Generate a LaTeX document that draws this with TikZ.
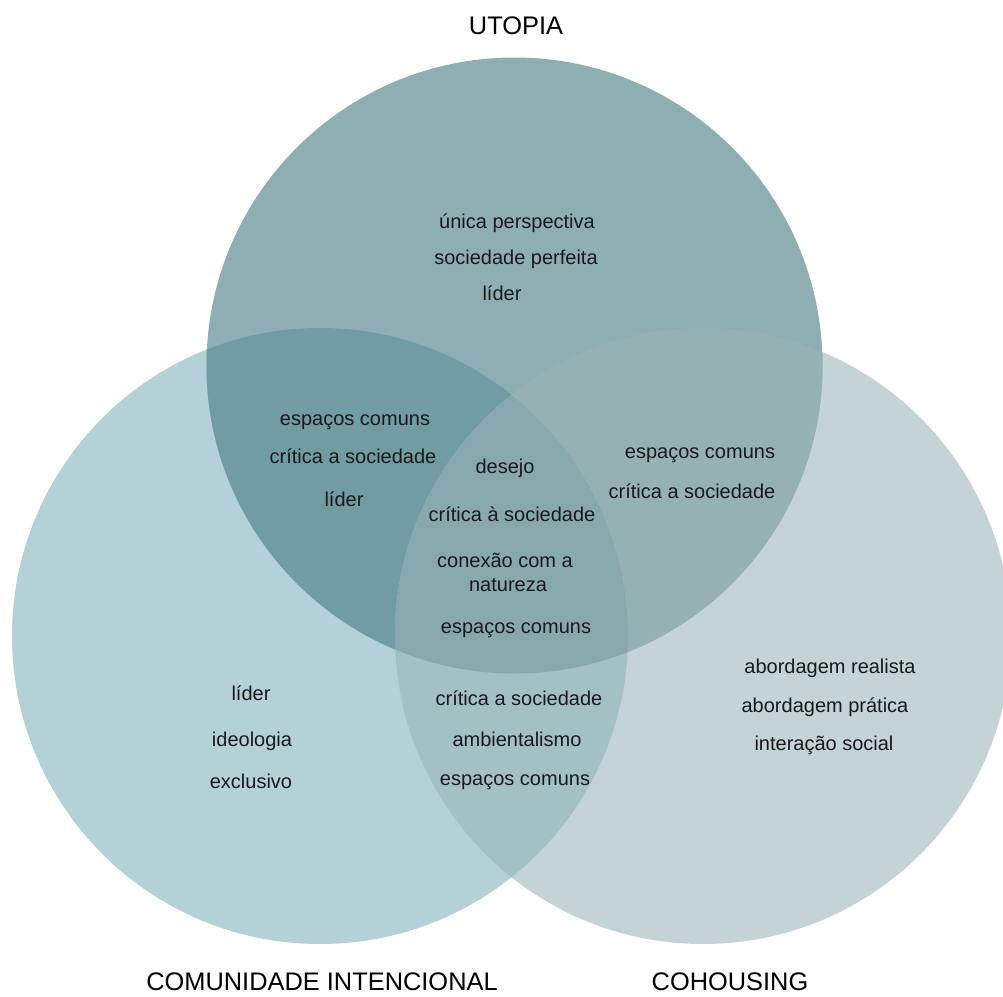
\documentclass[tikz,border=0pt]{standalone}
\usepackage{fontspec}
\setmainfont{Liberation Sans}
\definecolor{cT}{HTML}{8DAFB3}
\definecolor{cL}{HTML}{B3D1D6}
\definecolor{cR}{HTML}{C3D3D6}
\definecolor{cTL}{HTML}{709CA2}
\definecolor{cTR}{HTML}{96B1B3}
\definecolor{cLR}{HTML}{A3C0C4}
\definecolor{cTLR}{HTML}{87A9AD}
\definecolor{txt}{HTML}{1A1A1A}
\tikzset{
  item/.style={anchor=base,font=\fontsize{10}{12}\selectfont,text=txt,inner sep=0pt},
  setlabel/.style={anchor=base,font=\fontsize{12.7}{15}\selectfont,text=black,inner sep=0pt}
}
\begin{document}
\begin{tikzpicture}[x=0.5pt,y=-0.5pt]
\useasboundingbox (0,0) rectangle (1003,997);
\fill[white] (0,0) rectangle (1003,997);
\def\rr{308}
\coordinate (T) at (514.5,365.5);
\coordinate (L) at (320,636);
\coordinate (R) at (703,636);
% single circles
\fill[cL] (L) circle[radius=\rr];
\fill[cR] (R) circle[radius=\rr];
\fill[cT] (T) circle[radius=\rr];
% pairwise
\begin{scope}
  \clip (T) circle[radius=\rr];
  \fill[cTL] (L) circle[radius=\rr];
\end{scope}
\begin{scope}
  \clip (T) circle[radius=\rr];
  \fill[cTR] (R) circle[radius=\rr];
\end{scope}
\begin{scope}
  \clip (L) circle[radius=\rr];
  \fill[cLR] (R) circle[radius=\rr];
\end{scope}
\begin{scope}
  \clip (L) circle[radius=\rr];
  \clip (R) circle[radius=\rr];
  \fill[cTLR] (T) circle[radius=\rr];
\end{scope}
% labels
\node[setlabel] (utopia) at (516,34) {UTOPIA};
\node[setlabel] (comint) at (322,990) {COMUNIDADE INTENCIONAL};
\node[setlabel] (cohous) at (730,990) {COHOUSING};
% utopia only
\node[item] (u1) at (517,228) {única perspectiva};
\node[item] (u2) at (516,264) {sociedade perfeita};
\node[item] (u3) at (502,300) {líder};
% T and L
\node[item] (tl1) at (355,425) {espaços comuns};
\node[item] (tl2) at (353,463) {crítica a sociedade};
\node[item] (tl3) at (344,506) {líder};
% center
\node[item] (c1) at (505,473) {desejo};
\node[item] (c2) at (512,521) {crítica à sociedade};
\node[item] (c3) at (505,567) {conexão com a};
\node[item] (c4) at (508,591) {natureza};
\node[item] (c5) at (516,633) {espaços comuns};
% T and R
\node[item] (tr1) at (700,458) {espaços comuns};
\node[item] (tr2) at (692,498) {crítica a sociedade};
% L only
\node[item] (l1) at (251,700) {líder};
\node[item] (l2) at (252,746) {ideologia};
\node[item] (l3) at (251,788) {exclusivo};
% L and R
\node[item] (lr1) at (519,705) {crítica a sociedade};
\node[item] (lr2) at (517,746) {ambientalismo};
\node[item] (lr3) at (515,785) {espaços comuns};
% R only
\node[item] (r1) at (830,673) {abordagem realista};
\node[item] (r2) at (825,712) {abordagem prática};
\node[item] (r3) at (824,750) {interação social};
\end{tikzpicture}
\end{document}
